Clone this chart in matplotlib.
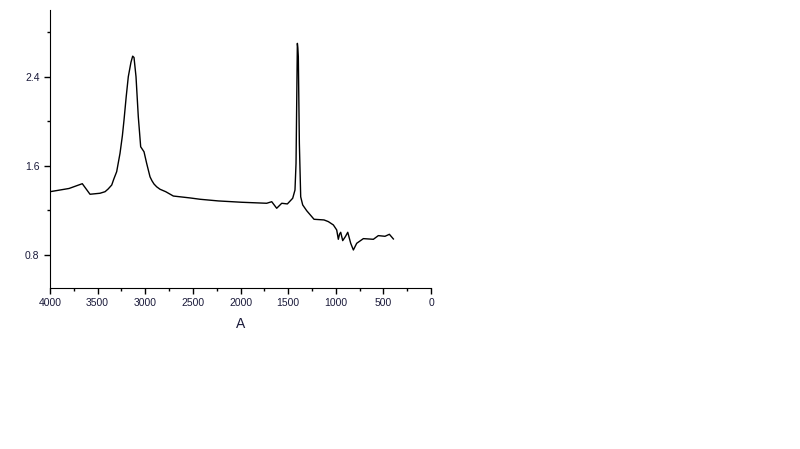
import matplotlib
matplotlib.use('Agg')
from matplotlib import pyplot as plt
from matplotlib.ticker import MultipleLocator

# wavenumber (A) and absorbance (b)
wavenumber = [4000, 3800, 3661, 3620, 3580, 3475, 3422, 3390, 3352, 3330,
              3300, 3265, 3240, 3223, 3200, 3178, 3150, 3132, 3118, 3097,
              3073, 3060, 3048, 3013, 2985, 2950, 2930, 2908, 2880, 2845,
              2785, 2705, 2530, 2425, 2233, 1987, 1725, 1672, 1620, 1567,
              1508, 1452, 1428, 1417, 1410, 1403, 1398, 1393, 1382, 1368,
              1347, 1305, 1228, 1123, 1078, 1025, 990, 973, 960, 948,
              927, 899, 874, 843, 815, 780, 710, 605, 553, 483,
              437, 395]
absorb = [1.366, 1.395, 1.438, 1.39, 1.343, 1.352, 1.366, 1.39, 1.426, 1.48,
          1.546, 1.711, 1.87, 2.01, 2.22, 2.40, 2.53, 2.585, 2.573, 2.40,
          2.04, 1.90, 1.77, 1.725, 1.62, 1.50, 1.465, 1.435, 1.41, 1.388,
          1.366, 1.327, 1.31, 1.298, 1.283, 1.271, 1.262, 1.276, 1.217, 1.262,
          1.256, 1.307, 1.381, 1.621, 2.16, 2.70, 2.66, 2.58, 1.80, 1.32,
          1.247, 1.195, 1.118, 1.112, 1.097, 1.067, 1.022, 0.938, 0.985, 1.001,
          0.926, 0.962, 1.001, 0.902, 0.842, 0.902, 0.944, 0.938, 0.971, 0.965,
          0.983, 0.941]

plt.rcParams['font.family'] = ['Liberation Sans', 'DejaVu Sans']

fig = plt.figure(figsize=(8, 4.49), dpi=100)
ax = fig.add_axes([50/800, 1 - 288/449, 381/800, 278/449])
ax.plot(wavenumber, absorb, c='black', lw=1)

# Format plot
ax.set_xlim(4000, 0)
ax.set_ylim(0.5, 3.0)
ax.xaxis.set_major_locator(MultipleLocator(500))
ax.xaxis.set_minor_locator(MultipleLocator(250))
ax.yaxis.set_major_locator(MultipleLocator(0.8))
ax.yaxis.set_minor_locator(MultipleLocator(0.4))
ax.spines['top'].set_visible(False)
ax.spines['right'].set_visible(False)
ax.tick_params(axis='both', which='major', length=4, width=1, labelsize=7.5,
               labelcolor='#1a1a3a')
ax.tick_params(axis='both', which='minor', length=2.5, width=1)
ax.set_xlabel('A', fontsize=10, color='#1a1a3a', labelpad=6)
ax.set_ylabel('b', fontsize=10, color='#1a1a5a', rotation=0)
ax.yaxis.set_label_coords(-0.145, 0.5)

fig.savefig('out.png', dpi=100)
